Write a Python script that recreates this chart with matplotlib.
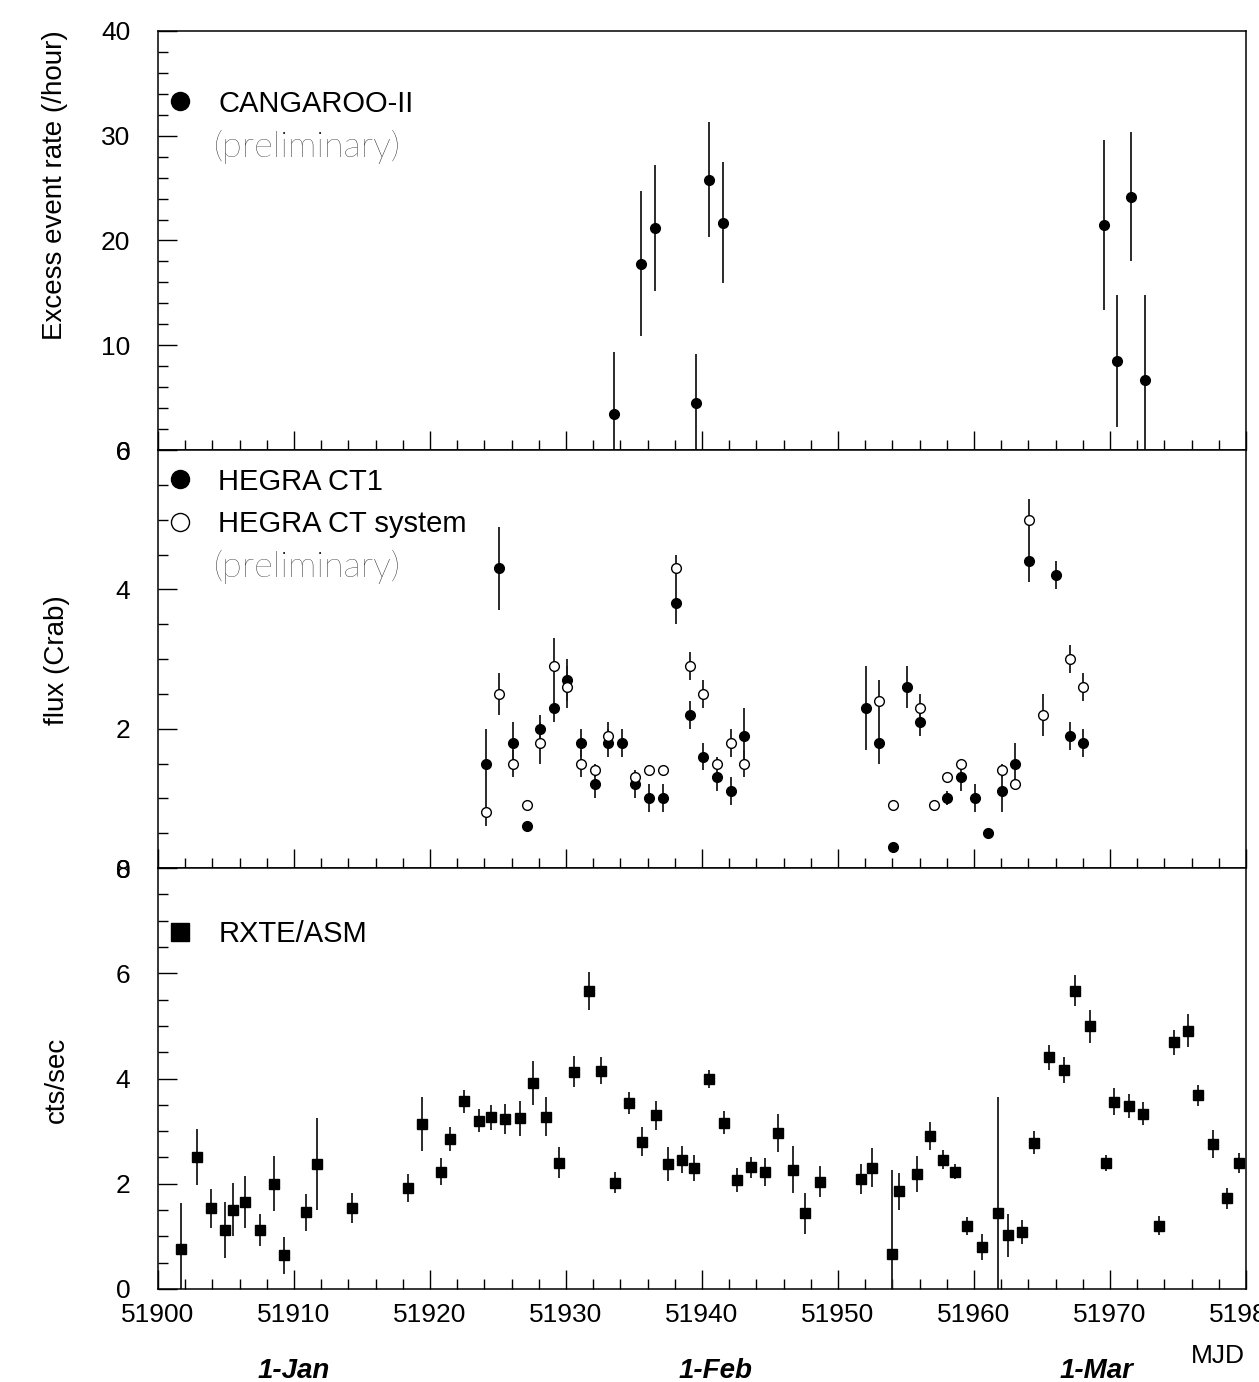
import numpy as np
import matplotlib.pyplot as plt
from matplotlib.lines import Line2D
from matplotlib.ticker import MultipleLocator
import matplotlib.transforms as mtransforms

plt.rcParams['font.family'] = ['Liberation Sans', 'DejaVu Sans']

# CANGAROO-II excess rate
cang_mjd = [51933.55, 51935.55, 51936.55, 51939.55, 51940.55, 51941.55,
            51969.55, 51970.55, 51971.55, 51972.55]
cang_rate = [3.4, 17.8, 21.2, 4.5, 25.8, 21.7, 21.5, 8.5, 24.2, 6.7]
cang_err = [6.0, 6.9, 6.0, 4.7, 5.5, 5.8, 8.1, 6.3, 6.2, 8.1]

# HEGRA CT1 flux (Crab)
ct1_mjd = [51924.1, 51925.1, 51926.1, 51927.1, 51928.1, 51929.1, 51930.1,
           51931.1, 51932.1, 51933.1, 51934.1, 51935.1, 51936.1, 51937.1,
           51938.1, 51939.1, 51940.1, 51941.1, 51942.1, 51943.1,
           51952.05, 51953.05, 51954.05, 51955.05, 51956.05, 51958.05,
           51959.05, 51960.05, 51961.05, 51962.05, 51963.05, 51964.05,
           51966.05, 51967.05, 51968.05]
ct1_flux = [1.5, 4.3, 1.8, 0.6, 2.0, 2.3, 2.7, 1.8, 1.2, 1.8, 1.8, 1.2, 1.0,
            1.0, 3.8, 2.2, 1.6, 1.3, 1.1, 1.9,
            2.3, 1.8, 0.3, 2.6, 2.1, 1.0, 1.3, 1.0, 0.5, 1.1, 1.5, 4.4,
            4.2, 1.9, 1.8]
ct1_err = [0.5, 0.6, 0.3, 0.05, 0.2, 0.2, 0.3, 0.2, 0.2, 0.2, 0.2, 0.2, 0.2,
           0.2, 0.3, 0.2, 0.2, 0.2, 0.2, 0.4,
           0.6, 0.3, 0.05, 0.3, 0.2, 0.1, 0.2, 0.2, 0.05, 0.3, 0.3, 0.3,
           0.2, 0.2, 0.2]

# HEGRA CT system flux (Crab)
sys_mjd = [51924.1, 51925.1, 51926.1, 51927.1, 51928.1, 51929.1, 51930.1,
           51931.1, 51932.1, 51933.1, 51935.1, 51936.1, 51937.1, 51938.1,
           51939.1, 51940.1, 51941.1, 51942.1, 51943.1,
           51953.05, 51954.05, 51956.05, 51957.05, 51958.05, 51959.05,
           51962.05, 51963.05, 51964.05, 51965.05, 51967.05, 51968.05]
sys_flux = [0.8, 2.5, 1.5, 0.9, 1.8, 2.9, 2.6, 1.5, 1.4, 1.9, 1.3, 1.4, 1.4,
            4.3, 2.9, 2.5, 1.5, 1.8, 1.5,
            2.4, 0.9, 2.3, 0.9, 1.3, 1.5, 1.4, 1.2, 5.0, 2.2, 3.0, 2.6]
sys_err = [0.2, 0.3, 0.2, 0.05, 0.3, 0.4, 0.3, 0.2, 0.1, 0.2, 0.05, 0.05,
           0.05, 0.2, 0.2, 0.2, 0.1, 0.2, 0.2,
           0.3, 0.05, 0.2, 0.05, 0.05, 0.05, 0.1, 0.05, 0.3, 0.3, 0.2, 0.2]

# RXTE/ASM count rate
asm_mjd = [51901.7, 51902.9, 51903.9, 51904.9, 51905.5, 51906.4, 51907.5,
           51908.5, 51909.3, 51910.9, 51911.7, 51914.3, 51918.4, 51919.4,
           51920.8, 51921.5, 51922.5, 51923.6, 51924.5, 51925.5, 51926.6,
           51927.6, 51928.5, 51929.5, 51930.6, 51931.7, 51932.6, 51933.6,
           51934.6, 51935.6, 51936.6, 51937.5, 51938.5, 51939.4, 51940.5,
           51941.6, 51942.6, 51943.6, 51944.6, 51945.6, 51946.7, 51947.6,
           51948.7, 51951.7, 51952.5, 51954.0, 51954.5, 51955.8, 51956.8,
           51957.7, 51958.6, 51959.5, 51960.6, 51961.8, 51962.5, 51963.5,
           51964.4, 51965.5, 51966.6, 51967.4, 51968.5, 51969.7, 51970.3,
           51971.4, 51972.4, 51973.6, 51974.7, 51975.7, 51976.5, 51977.6,
           51978.6, 51979.5]
asm_rate = [0.76, 2.51, 1.53, 1.12, 1.51, 1.65, 1.12, 2.0, 0.64, 1.46, 2.37,
            1.54, 1.92, 3.13, 2.23, 2.85, 3.57, 3.2, 3.26, 3.23, 3.24, 3.91,
            3.27, 2.4, 4.13, 5.66, 4.15, 2.02, 3.54, 2.8, 3.3, 2.38, 2.46,
            2.3, 3.99, 3.16, 2.07, 2.31, 2.22, 2.97, 2.27, 1.44, 2.04, 2.09,
            2.3, 0.66, 1.86, 2.19, 2.91, 2.46, 2.23, 1.2, 0.8, 1.44, 1.02,
            1.09, 2.78, 4.4, 4.16, 5.67, 4.99, 2.4, 3.56, 3.47, 3.33, 1.2,
            4.69, 4.91, 3.68, 2.76, 1.72, 2.4]
asm_err = [0.88, 0.53, 0.37, 0.53, 0.5, 0.5, 0.3, 0.52, 0.35, 0.35, 0.87,
           0.29, 0.27, 0.51, 0.25, 0.22, 0.22, 0.22, 0.24, 0.28, 0.33, 0.42,
           0.37, 0.3, 0.3, 0.36, 0.26, 0.2, 0.21, 0.28, 0.28, 0.32, 0.25,
           0.25, 0.17, 0.22, 0.22, 0.2, 0.26, 0.36, 0.44, 0.39, 0.29, 0.29,
           0.37, 1.6, 0.35, 0.34, 0.27, 0.18, 0.14, 0.17, 0.25, 2.2, 0.41,
           0.23, 0.22, 0.24, 0.24, 0.3, 0.31, 0.15, 0.26, 0.23, 0.22, 0.18,
           0.24, 0.32, 0.2, 0.27, 0.2, 0.19]

date_mjd = [51910, 51941, 51969]
date_lbl = ['1-Jan', '1-Feb', '1-Mar']

W, H = 1259, 1382
fig = plt.figure(figsize=(W / 100, H / 100), dpi=100)

left = 158 / W
width = (1246 - 158) / W


def panel(top_px, bot_px):
    return fig.add_axes([left, 1 - bot_px / H, width, (bot_px - top_px) / H])


ax1 = panel(31, 450)
ax2 = panel(450, 868)
ax3 = panel(868, 1289)

fs = 19      # tick labels / axis titles
lfs = 21     # legend entries
for ax in (ax1, ax2, ax3):
    ax.set_xlim(51900, 51980)
    ax.xaxis.set_major_locator(MultipleLocator(10))
    ax.xaxis.set_minor_locator(MultipleLocator(2))
    ax.tick_params(which='both', direction='in', top=False, right=False,
                   width=1.0, labelsize=fs, pad=20)
    ax.tick_params(which='major', length=14)
    ax.tick_params(which='minor', length=7)
    ax.tick_params(axis='x', pad=10)
    for s in ax.spines.values():
        s.set_linewidth(1.1)

ax1.tick_params(axis='x', labelbottom=False)
ax2.tick_params(axis='x', labelbottom=False)

ax1.set_ylim(0, 40)
ax1.yaxis.set_major_locator(MultipleLocator(10))
ax1.yaxis.set_minor_locator(MultipleLocator(2))
ax2.set_ylim(0, 6)
ax2.yaxis.set_major_locator(MultipleLocator(2))
ax2.yaxis.set_minor_locator(MultipleLocator(0.5))
ax3.set_ylim(0, 8)
ax3.yaxis.set_major_locator(MultipleLocator(2))
ax3.yaxis.set_minor_locator(MultipleLocator(0.5))

ekw = dict(ls='none', ecolor='#1a1a1a', elinewidth=1.3, capsize=0, ms=7)

ax1.errorbar(cang_mjd, cang_rate, yerr=cang_err, fmt='o', color='k', **ekw)
ax2.errorbar(ct1_mjd, ct1_flux, yerr=ct1_err, fmt='o', color='k', **ekw)
ax2.errorbar(sys_mjd, sys_flux, yerr=sys_err, fmt='o', color='k',
             mfc='white', mec='k', mew=1.0, **ekw)
ax3.errorbar(asm_mjd, asm_rate, yerr=asm_err, fmt='s', color='k', **ekw)

lkw = dict(loc='upper left', frameon=False, fontsize=lfs, borderpad=0,
           borderaxespad=0, handlelength=1.52, handletextpad=0.55,
           labelspacing=0.5)

h1 = [Line2D([], [], ls='none', marker='o', color='k', ms=13)]
ax1.legend(h1, ['CANGAROO-II'], bbox_to_anchor=(0, 0.860), **lkw)

h2 = [Line2D([], [], ls='none', marker='o', color='k', ms=13),
      Line2D([], [], ls='none', marker='o', mfc='white', mec='k', mew=1.0,
             ms=13)]
ax2.legend(h2, ['HEGRA CT1', 'HEGRA CT system'], bbox_to_anchor=(0, 0.958),
           **lkw)

h3 = [Line2D([], [], ls='none', marker='s', color='k', ms=13)]
ax3.legend(h3, ['RXTE/ASM'], bbox_to_anchor=(0, 0.877), **lkw)

prelim = dict(fontsize=26, family=['Lato', 'DejaVu Sans'], weight='light',
              color='black', ha='left', va='center')
ax1.text(0.051, 0.723, '(preliminary)', transform=ax1.transAxes, **prelim)
ax2.text(0.051, 0.72, '(preliminary)', transform=ax2.transAxes, **prelim)

fig.text(55 / W, 1 - 185 / H, 'Excess event rate (/hour)', rotation=90,
         ha='center', va='center', fontsize=20)
fig.text(57 / W, 1 - 660 / H, 'flux (Crab)', rotation=90,
         ha='center', va='center', fontsize=20)
fig.text(57 / W, 1 - 1080 / H, 'cts/sec', rotation=90,
         ha='center', va='center', fontsize=20)

fig.text(1245 / W, 1 - 1356 / H, 'MJD', ha='right', va='center', fontsize=fs)

trans = mtransforms.blended_transform_factory(ax3.transData, fig.transFigure)
for m, lbl in zip(date_mjd, date_lbl):
    ax3.text(m, 1 - 1371 / H, lbl, transform=trans, ha='center', va='center',
             fontsize=20, weight='bold', style='italic')

fig.savefig('out.png', dpi=100)
